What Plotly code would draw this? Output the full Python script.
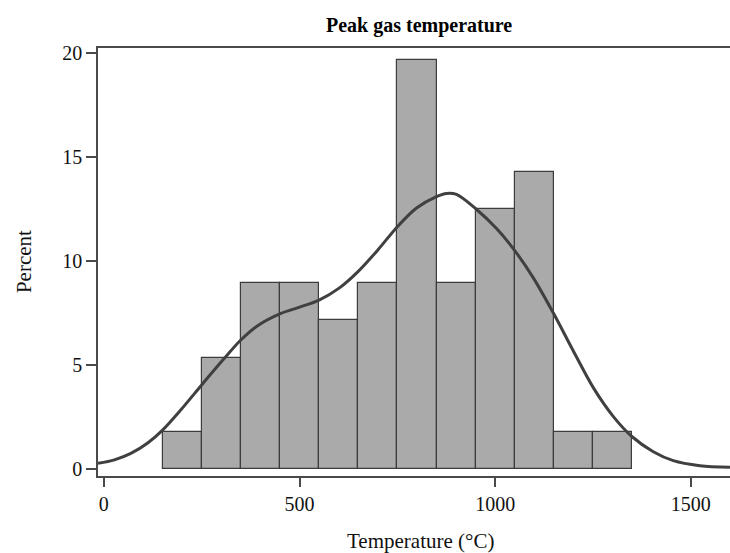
import plotly.graph_objects as go

# Histogram of peak gas temperature (bins of 100 °C), in percent of observations
bin_centers = [200, 300, 400, 500, 600, 700, 800, 900, 1000, 1100, 1200, 1300]
bin_percent = [1.79, 5.36, 8.93, 8.93, 7.14, 8.93, 19.64, 8.93, 12.5, 14.29, 1.79, 1.79]
bin_width = 100

# Smoothed density overlay, scaled to percent per bin
curve_temp = [-15, 27, 69, 112, 150, 197, 252, 304, 350, 393, 451, 500, 550, 603,
              650, 701, 750, 799, 850, 876, 901, 951, 1004, 1050, 1097, 1150, 1200,
              1251, 1302, 1350, 1404, 1455, 1523, 1600]
curve_percent = [0.27, 0.44, 0.75, 1.25, 1.87, 2.85, 4.09, 5.24, 6.2, 6.89, 7.47, 7.78,
                 8.12, 8.72, 9.5, 10.55, 11.65, 12.55, 13.1, 13.25, 13.2, 12.5, 11.55,
                 10.5, 9.2, 7.45, 5.66, 3.9, 2.52, 1.55, 0.83, 0.40, 0.16, 0.08]

x_ticks = [0, 500, 1000, 1500]
y_ticks = [0, 5, 10, 15, 20]

SERIF = "Liberation Serif"
AXIS_COLOR = "#4a4a4a"

fig = go.Figure()
fig.add_trace(go.Bar(
    x=bin_centers, y=bin_percent, width=bin_width,
    marker=dict(color="#aaaaaa", line=dict(color="#3c3c3c", width=1.2)),
    hoverinfo="x+y", showlegend=False,
))
fig.add_trace(go.Scatter(
    x=curve_temp, y=curve_percent, mode="lines",
    line=dict(color="#404040", width=3, shape="spline", smoothing=0.9),
    showlegend=False,
))

fig.update_layout(
    width=730, height=553,
    margin=dict(l=98, r=0, t=48, b=77),
    paper_bgcolor="white", plot_bgcolor="white",
    font=dict(family=SERIF, size=20, color="#111111"),
    bargap=0,
    xaxis=dict(
        range=[-15, 1600], tickvals=x_ticks, ticktext=[str(v) for v in x_ticks],
        showgrid=False, zeroline=False,
        showline=True, mirror=True, linecolor=AXIS_COLOR, linewidth=1.6,
        ticks="outside", ticklen=9, tickwidth=1.6, tickcolor=AXIS_COLOR,
        tickfont=dict(family=SERIF, size=20, color="#111111"),
    ),
    yaxis=dict(
        range=[-0.337, 20.24], tickvals=y_ticks, ticktext=[str(v) for v in y_ticks],
        showgrid=False, zeroline=False,
        showline=True, linecolor=AXIS_COLOR, linewidth=1.6,
        ticks="outside", ticklen=10, tickwidth=1.6, tickcolor=AXIS_COLOR,
        tickfont=dict(family=SERIF, size=20, color="#111111"),
    ),
    annotations=[
        dict(text="<b>Peak gas temperature</b>", xref="paper", yref="paper",
             x=0.508, y=1.053, xanchor="center", yanchor="middle", showarrow=False,
             font=dict(family=SERIF, size=20, color="#000000")),
        dict(text="Temperature (°C)", xref="paper", yref="paper",
             x=0.5095, y=-0.152, xanchor="center", yanchor="middle", showarrow=False,
             font=dict(family=SERIF, size=21, color="#111111")),
        dict(text="Percent", xref="paper", yref="paper",
             x=-0.117, y=0.5, xanchor="center", yanchor="middle", showarrow=False,
             textangle=-90, font=dict(family=SERIF, size=21, color="#111111")),
    ],
)

fig.write_html("out.html")
